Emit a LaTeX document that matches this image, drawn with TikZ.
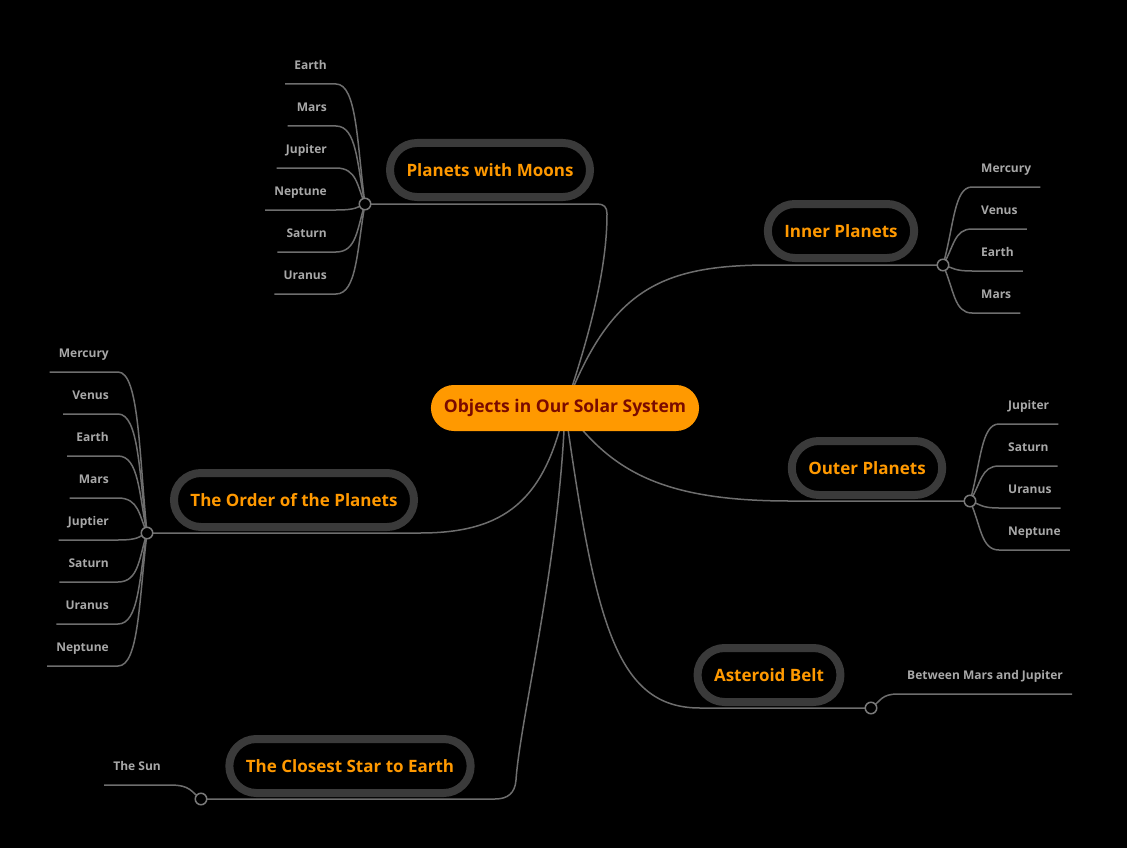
\documentclass[tikz,border=0pt]{standalone}
\usepackage{fontspec}
\setmainfont{Open Sans}
\usepackage{tikz}

\definecolor{rootfill}{HTML}{FF9900}
\definecolor{roottext}{HTML}{7A0A00}
\definecolor{topictext}{HTML}{FF9900}
\definecolor{topicring}{HTML}{3A3A3A}
\definecolor{branchgray}{HTML}{6E6E6E}
\definecolor{dotgray}{HTML}{7A7A7A}
\definecolor{leaftext}{HTML}{A8A8A8}

\pgfdeclarelayer{edges}
\pgfsetlayers{edges,main}

\tikzset{
	root/.style={fill=rootfill, text=roottext, font=\bfseries\fontsize{17.5}{20}\selectfont,
		rounded corners=23pt, minimum height=46pt, inner xsep=13pt},
	topic/.style={draw=topicring, line width=8pt, fill=black, text=topictext,
		font=\bfseries\fontsize{17}{20}\selectfont, rounded corners=27pt,
		minimum height=54pt, inner xsep=16.5pt},
	leaf/.style={text=leaftext, font=\bfseries\fontsize{12}{15}\selectfont,
		text height=9pt, text depth=3pt, inner xsep=9pt, inner ysep=11pt},
	dot/.style={circle, draw=dotgray, line width=1.5pt, fill=black,
		minimum size=11.5pt, inner sep=0pt},
	branch/.style={draw=branchgray, line width=1.5pt},
}

\begin{document}
\begin{tikzpicture}[x=1pt,y=-1pt]
				\useasboundingbox (0,0) rectangle (1127,848);
				\begin{pgfonlayer}{edges}
				\fill[black] (0,0) rectangle (1127,848);
				\end{pgfonlayer}
				% centre
				\node[root] (root) at (565,408) {Objects in Our Solar System};
				% main topics
				\node[topic] (moons) at (490,170) {Planets with Moons};
				\node[topic] (inner) at (841,231) {Inner Planets};
				\node[topic] (outer) at (867,468) {Outer Planets};
				\node[topic] (aster) at (769,675) {Asteroid Belt};
				\node[topic] (order) at (294,500) {The Order of the Planets};
				\node[topic] (star) at (350,766) {The Closest Star to Earth};
				% branch points
				\node[dot] (moonsdot) at (365,204) {};
				\node[dot] (innerdot) at (943,265) {};
				\node[dot] (outerdot) at (970,501) {};
				\node[dot] (asterdot) at (871,708) {};
				\node[dot] (orderdot) at (147,533) {};
				\node[dot] (stardot) at (201,799) {};
				% trunk
				\begin{pgfonlayer}{edges}
				\draw[branch] (root.center) .. controls (595,320) and (607,260) .. (607,214)
				.. controls (607,207) and (604,204) .. (597,204) -- (moonsdot.center);
				\draw[branch] (root.center) .. controls (610,290) and (660,265) .. (770,265) -- (innerdot.center);
				\draw[branch] (root.center) .. controls (610,470) and (660,501) .. (790,501) -- (outerdot.center);
				\draw[branch] (root.center) .. controls (595,620) and (615,708) .. (700,708) -- (asterdot.center);
				\draw[branch] (root.center) .. controls (545,500) and (505,533) .. (420,533) -- (orderdot.center);
				\draw[branch] (root.center) .. controls (560,560) and (520,720) .. (516,780)
				.. controls (515,793) and (508,799) .. (495,799) -- (stardot.center);
				\end{pgfonlayer}
				% leaves
				\foreach \planet [count=\i] in {Earth,Mars,Jupiter,Neptune,Saturn,Uranus}{
					\pgfmathsetmacro\ly{42+42*\i}
					\node[leaf, anchor=south east] (moon\i) at (336,\ly) {\planet};
					\begin{pgfonlayer}{edges}
					\draw[branch] (moonsdot.center) .. controls (357,{(204+\ly)/2}) and (357,\ly) .. (moon\i.south east) -- (moon\i.south west);
					\end{pgfonlayer}
				}
				\foreach \planet [count=\i] in {Mercury,Venus,Earth,Mars}{
					\pgfmathsetmacro\ly{145+42*\i}
					\node[leaf, anchor=south west] (inner\i) at (972,\ly) {\planet};
					\begin{pgfonlayer}{edges}
					\draw[branch] (innerdot.center) .. controls (954,{(265+\ly)/2}) and (954,\ly) .. (inner\i.south west) -- (inner\i.south east);
					\end{pgfonlayer}
				}
				\foreach \planet [count=\i] in {Jupiter,Saturn,Uranus,Neptune}{
					\pgfmathsetmacro\ly{382+42*\i}
					\node[leaf, anchor=south west] (outer\i) at (999,\ly) {\planet};
					\begin{pgfonlayer}{edges}
					\draw[branch] (outerdot.center) .. controls (981,{(501+\ly)/2}) and (981,\ly) .. (outer\i.south west) -- (outer\i.south east);
					\end{pgfonlayer}
				}
				\foreach \planet [count=\i] in {Mercury,Venus,Earth,Mars,Juptier,Saturn,Uranus,Neptune}{
					\pgfmathsetmacro\ly{330+42*\i}
					\node[leaf, anchor=south east] (order\i) at (118,\ly) {\planet};
					\begin{pgfonlayer}{edges}
					\draw[branch] (orderdot.center) .. controls (139,{(533+\ly)/2}) and (139,\ly) .. (order\i.south east) -- (order\i.south west);
					\end{pgfonlayer}
				}
				\node[leaf, anchor=south west] (aster1) at (898,694) {Between Mars and Jupiter};
				\node[leaf, anchor=south east] (star1) at (170,785) {The Sun};
				\begin{pgfonlayer}{edges}
				\draw[branch] (asterdot.center) .. controls (881,701) and (881,694) .. (aster1.south west) -- (aster1.south east);
				\draw[branch] (stardot.center) .. controls (191,792) and (191,785) .. (star1.south east) -- (star1.south west);
				\end{pgfonlayer}
\end{tikzpicture}
\end{document}
